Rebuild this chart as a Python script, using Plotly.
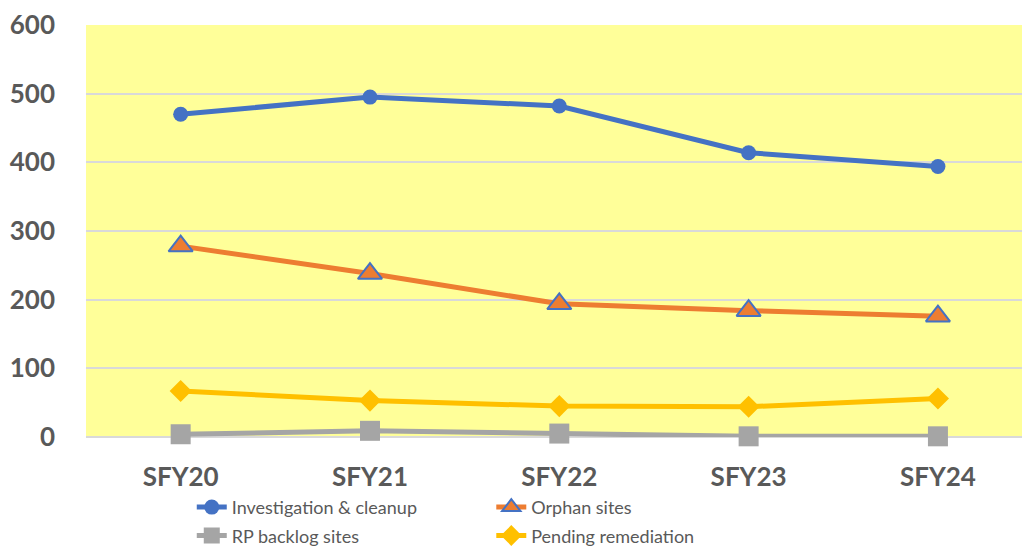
import plotly.graph_objects as go

categories = ["SFY20", "SFY21", "SFY22", "SFY23", "SFY24"]
investigation_cleanup = [470, 495, 482, 414, 394]
orphan_sites = [278, 238, 194, 184, 176]
rp_backlog_sites = [4, 9, 5, 1, 1]
pending_remediation = [67, 53, 45, 44, 56]
y_ticks = [0, 100, 200, 300, 400, 500, 600]

BLUE = "#4472C4"
ORANGE = "#ED7D31"
GRAY = "#A5A5A5"
GOLD = "#FFC000"
TXT = "#595959"
FONT = "Lato, Arial, sans-serif"

fig = go.Figure()
fig.add_trace(go.Scatter(
    x=categories, y=investigation_cleanup, name="Investigation & cleanup",
    mode="lines+markers", line=dict(color=BLUE, width=5),
    marker=dict(symbol="circle", size=15, color=BLUE),
    cliponaxis=False, legend="legend", legendgroup="a"))
fig.add_trace(go.Scatter(
    x=categories, y=orphan_sites, name="Orphan sites",
    mode="lines+markers", line=dict(color=ORANGE, width=5),
    marker=dict(symbol="triangle-up", size=21, color=ORANGE, line=dict(color=BLUE, width=2)),
    cliponaxis=False, legend="legend2", legendgroup="b"))
fig.add_trace(go.Scatter(
    x=categories, y=rp_backlog_sites, name="RP backlog sites",
    mode="lines+markers", line=dict(color=GRAY, width=5),
    marker=dict(symbol="square", size=20, color=GRAY),
    cliponaxis=False, legend="legend", legendgroup="c"))
fig.add_trace(go.Scatter(
    x=categories, y=pending_remediation, name="Pending remediation",
    mode="lines+markers", line=dict(color=GOLD, width=5),
    marker=dict(symbol="diamond", size=17, color=GOLD),
    cliponaxis=False, legend="legend2", legendgroup="d"))

legend_common = dict(
    orientation="v", yanchor="top", xanchor="left",
    font=dict(family=FONT, size=18, color=TXT),
    bgcolor="rgba(0,0,0,0)", tracegroupgap=2, itemsizing="trace",
)

fig.update_layout(
    width=1022, height=590,
    margin=dict(l=86, r=0, t=25, b=153),
    paper_bgcolor="white",
    plot_bgcolor="#FFFF99",
    font=dict(family=FONT, color=TXT),
    legend=dict(x=0.113, y=-0.126, **legend_common),
    legend2=dict(x=0.433, y=-0.126, **legend_common),
    xaxis=dict(
        type="category", range=[-0.5, 4.444], automargin=False,
        showgrid=False, zeroline=False, showline=False,
        tickfont=dict(family=FONT, size=26, color=TXT, weight="bold"),
        ticklabelstandoff=22,
    ),
    yaxis=dict(
        range=[0, 600], tickvals=y_ticks, automargin=False,
        showgrid=True, gridcolor="#D9D9D9", gridwidth=1.5,
        zeroline=True, zerolinecolor="#D9D9D9", zerolinewidth=1.5,
        showline=False,
        tickfont=dict(family=FONT, size=26, color=TXT, weight="bold"),
        ticklabelstandoff=30,
    ),
)

fig.write_html(
    "out.html",
    config={"displayModeBar": False},
    post_script="document.body.style.margin='0';document.body.style.overflow='hidden';",
)
